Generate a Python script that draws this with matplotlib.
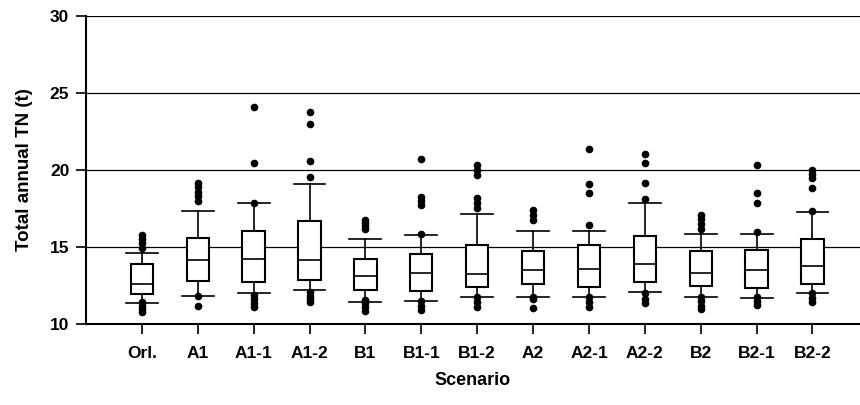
import matplotlib
matplotlib.use("Agg")
import matplotlib.pyplot as plt

plt.rcParams['font.family'] = ['Liberation Sans', 'DejaVu Sans']

scenarios = ["Orl.", "A1", "A1-1", "A1-2", "B1", "B1-1", "B1-2",
             "A2", "A2-1", "A2-2", "B2", "B2-1", "B2-2"]
q1 =      [11.97, 12.81, 12.70, 12.86, 12.23, 12.12, 12.42, 12.62, 12.40, 12.70, 12.49, 12.32, 12.60]
median =  [12.62, 14.16, 14.22, 14.18, 13.14, 13.29, 13.27, 13.49, 13.60, 13.91, 13.33, 13.51, 13.79]
q3 =      [13.88, 15.58, 16.06, 16.69, 14.20, 14.57, 15.13, 14.72, 15.11, 15.73, 14.76, 14.83, 15.54]
wlo =     [11.34, 11.82, 11.99, 12.20, 11.45, 11.47, 11.77, 11.75, 11.77, 12.10, 11.75, 11.69, 12.03]
whi =     [14.61, 17.32, 17.84, 19.09, 15.50, 15.76, 17.12, 16.06, 16.06, 17.88, 15.86, 15.82, 17.25]
outliers = [
    [15.76, 15.5, 15.25, 14.95, 11.45, 11.2, 11.0, 10.8],
    [19.14, 18.9, 18.6, 18.3, 18.0, 11.82, 11.17],
    [24.11, 20.43, 17.88, 11.88, 11.6, 11.35, 11.13],
    [23.75, 23.01, 20.60, 19.57, 12.1, 11.85, 11.6, 11.4],
    [16.75, 16.55, 16.35, 16.15, 11.56, 11.35, 11.1, 10.87],
    [20.71, 18.27, 18.0, 17.73, 15.84, 11.47, 11.2, 10.9],
    [20.32, 20.0, 19.68, 18.16, 17.85, 17.51, 11.77, 11.45, 11.13],
    [17.40, 17.1, 16.75, 11.75, 11.6, 11.06],
    [21.36, 19.07, 18.48, 16.43, 11.77, 11.45, 11.13],
    [21.04, 20.48, 19.13, 18.12, 11.99, 11.65, 11.34],
    [17.08, 16.8, 16.5, 16.17, 11.75, 11.5, 11.2, 10.95],
    [20.32, 18.53, 17.88, 15.99, 11.77, 11.5, 11.21],
    [20.0, 19.75, 19.46, 18.83, 17.34, 11.99, 11.7, 11.45],
]

stats = []
for i, name in enumerate(scenarios):
    stats.append(dict(label=name, q1=q1[i], med=median[i], q3=q3[i],
                      whislo=wlo[i], whishi=whi[i], fliers=outliers[i]))

fig = plt.figure(figsize=(8.6, 4.05), dpi=100)
ax = fig.add_axes([0.1, 0.2, 0.9, 0.7605])

pos = list(range(1, len(scenarios) + 1))
ax.bxp(stats, positions=pos, widths=0.4, capwidths=0.57, patch_artist=True,
       boxprops=dict(facecolor='white', edgecolor='black', linewidth=1.5),
       medianprops=dict(color='black', linewidth=1.2),
       whiskerprops=dict(color='black', linewidth=1.2),
       capprops=dict(color='black', linewidth=1.2),
       flierprops=dict(marker='o', markerfacecolor='black', markeredgecolor='black',
                       markersize=4.5, linestyle='none'),
       zorder=3)

ax.set_ylim(10, 30)
ax.set_xlim(0, 13.85)
ax.set_yticks([10, 15, 20, 25, 30])
ax.set_xticks(pos)
ax.set_xticklabels(scenarios)
ax.yaxis.grid(True, color='black', linewidth=0.9)
ax.set_axisbelow(True)
ax.spines['top'].set_visible(False)
ax.spines['right'].set_visible(False)
ax.spines['left'].set_linewidth(1.5)
ax.spines['bottom'].set_linewidth(1.5)
ax.tick_params(axis='both', direction='out', length=7, width=1.2, labelsize=12.5)
for lab in ax.get_xticklabels() + ax.get_yticklabels():
    lab.set_fontweight('bold')
ax.tick_params(axis='x', pad=9)
ax.tick_params(axis='y', pad=5)

ax.set_ylabel("Total annual TN (t)", fontsize=13.5, fontweight='bold', labelpad=12)
ax.set_xlabel("Scenario", fontsize=13, fontweight='bold', labelpad=8)

fig.savefig("out.png", dpi=100)
